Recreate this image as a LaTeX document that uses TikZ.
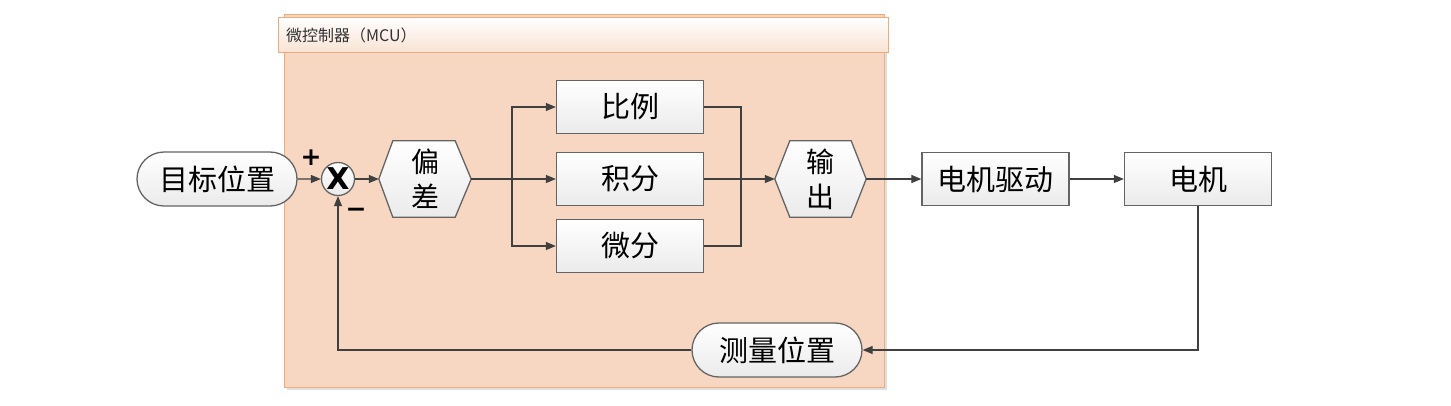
\documentclass[tikz,border=0pt]{standalone}
\usepackage{fontspec}
\newfontfamily\cjk{Noto Sans CJK SC}
\newfontfamily\symfont{DejaVu Sans}
\usetikzlibrary{arrows.meta,shapes.misc,calc}
\definecolor{peach}{RGB}{247,215,193}
\definecolor{peachborder}{RGB}{238,172,124}
\definecolor{linec}{RGB}{64,64,64}
\definecolor{boxc}{RGB}{100,100,100}
\begin{document}
\begin{tikzpicture}[x=1pt,y=-1pt,
  cjkfont/.style={font=\cjk\fontsize{29}{36}\selectfont},
  box/.style={draw=boxc, line width=1.3pt, top color=white, bottom color=gray!16,
    minimum width=147pt, minimum height=53pt, inner sep=0pt, cjkfont},
  pill/.style={rounded rectangle, draw=boxc, line width=1.3pt, top color=white, bottom color=gray!16,
    minimum height=54pt, inner sep=0pt, cjkfont},
  hexnode/.style={minimum width=92pt, minimum height=76pt, inner sep=0pt, align=center,
    font=\cjk\fontsize{28}{35}\selectfont},
  hexshape/.style={draw=boxc, line width=1.3pt, top color=white, bottom color=gray!16},
  signfont/.style={font=\symfont\bfseries\fontsize{25}{25}\selectfont, inner sep=0pt},
  conn/.style={draw=linec, line width=1.2pt},
  arr/.style={conn, -{Triangle[length=10pt,width=8pt]}},
]
\useasboundingbox (0,0) rectangle (1451,405);
% MCU container
\path[fill=black!12] (287,18) rectangle (887,390);
\path[draw=peachborder, fill=peach, line width=1pt] (284,14) rectangle (884,387);
\path[draw=peachborder, line width=1pt, top color=white, bottom color=peach!70] (278,17) rectangle (888,52);
\node[anchor=west, inner sep=0pt, font=\cjk\fontsize{16}{18}\selectfont, text=black!80] (mcu) at (286,35) {微控制器（MCU）};

% nodes
\node[pill, minimum width=160pt] (goal) at (217,179) {目标位置};
\node[circle, draw=boxc, line width=1.3pt, top color=white, bottom color=gray!16, minimum size=33pt, inner sep=0pt,
      font=\symfont\bfseries\fontsize{30}{30}\selectfont] (sum) at (338,179) {X};
\node[signfont] (plus) at (311,158) {+};
\node[signfont] (minus) at (356,213) {−};

\node[hexnode] (err) at (425,179) {};
\path[hexshape] (err.west) -- ($(err.north west)+(14,0)$) -- ($(err.north east)+(-16,0)$) -- (err.east)
   -- ($(err.south east)+(-16,0)$) -- ($(err.south west)+(14,0)$) -- cycle;
\node[hexnode] (errt) at (425,179) {偏\\差};

\node[box] (p) at (630,107) {比例};
\node[box] (i) at (630,179) {积分};
\node[box] (d) at (630,246) {微分};

\node[hexnode, minimum width=91pt] (out) at (820.5,179) {};
\path[hexshape] (out.west) -- ($(out.north west)+(15,0)$) -- ($(out.north east)+(-15,0)$) -- (out.east)
   -- ($(out.south east)+(-15,0)$) -- ($(out.south west)+(15,0)$) -- cycle;
\node[hexnode] (outt) at (820.5,179) {输\\出};

\node[box] (drv) at (995.5,179) {电机驱动};
\node[box] (mot) at (1198,179) {电机};
\node[pill, minimum width=170pt] (meas) at (777,350) {测量位置};

\coordinate (bl) at (512,179);
\coordinate (mr) at (741,179);

% connectors
\draw[arr] (goal) -- (sum);
\draw[arr] (sum) -- (err.west);
\draw[arr] (err.east) -- (i.west);
\draw[arr] (bl) |- (p.west);
\draw[arr] (bl) |- (d.west);
\draw[conn] (p.east) -| (mr);
\draw[conn] (d.east) -| (mr);
\draw[arr] (i.east) -- (out.west);
\draw[arr] (out.east) -- (drv);
\draw[arr] (drv) -- (mot);
\draw[arr] (mot.south) |- (meas.east);
\draw[arr] (meas.west) -| (sum.south);
\end{tikzpicture}
\end{document}
